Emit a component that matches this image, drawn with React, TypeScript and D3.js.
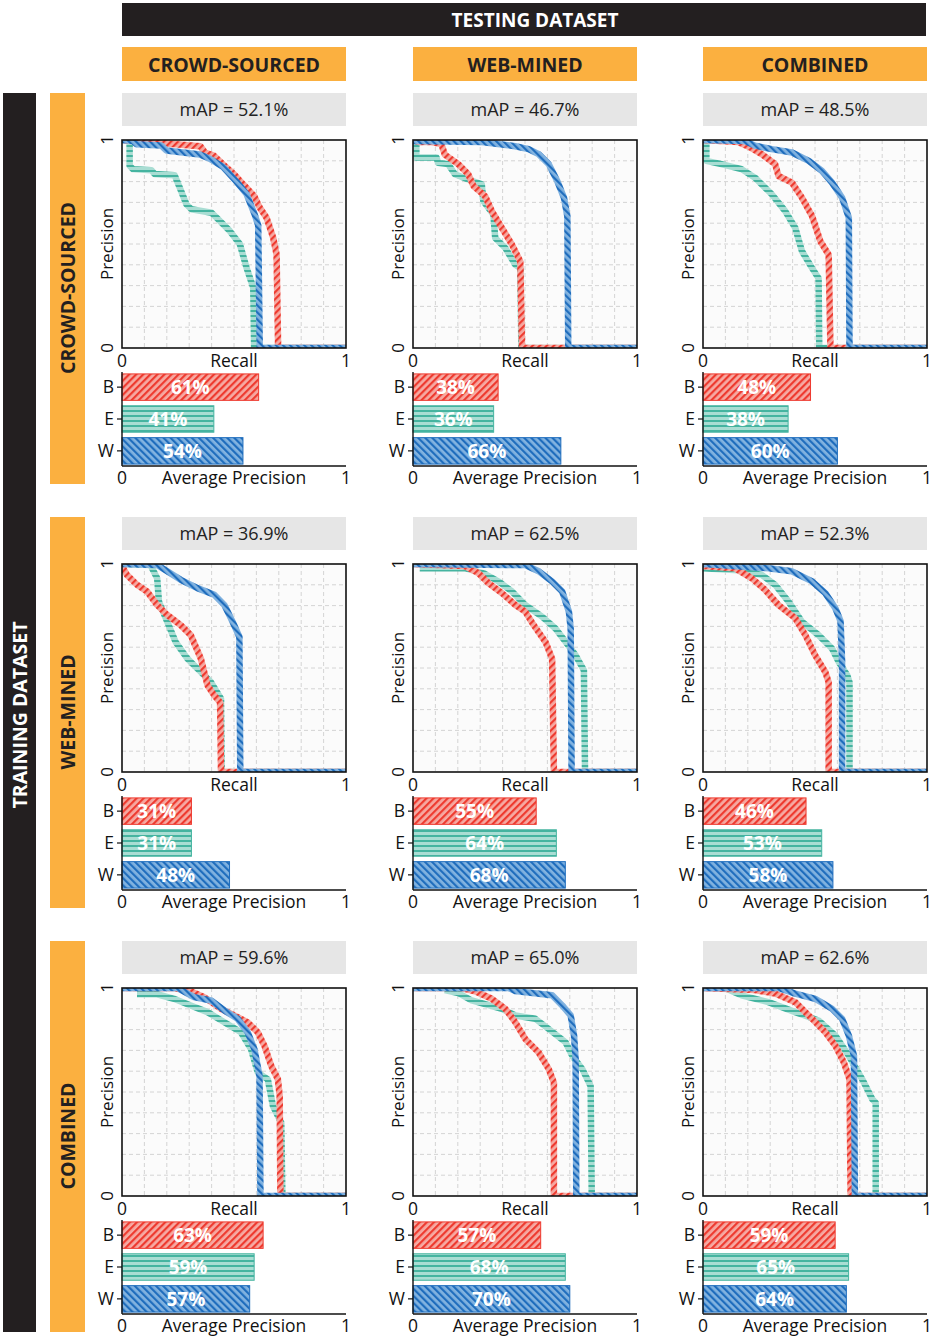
import React from 'react';
import * as d3 from 'd3';

// datasets / classes
const testSets = ['CROWD-SOURCED', 'WEB-MINED', 'COMBINED'];
const trainSets = ['CROWD-SOURCED', 'WEB-MINED', 'COMBINED'];
const classKeys = ['B', 'E', 'W'];

// mAP per training row / testing column
const mapRow1 = [52.1, 46.7, 48.5];
const mapRow2 = [36.9, 62.5, 52.3];
const mapRow3 = [59.6, 65.0, 62.6];

// average precision (%) per class
const apB = [[61, 38, 48], [31, 55, 46], [63, 57, 59]];
const apE = [[41, 36, 38], [31, 64, 53], [59, 68, 65]];
const apW = [[54, 66, 60], [48, 68, 58], [57, 70, 64]];

// precision-recall curves, [recall, precision]
const prCsCsB = [[0, 1], [0.35, 0.97], [0.37, 0.94], [0.41, 0.925], [0.45, 0.884], [0.5, 0.836], [0.54, 0.788], [0.59, 0.731], [0.615, 0.675], [0.645, 0.627], [0.675, 0.53], [0.69, 0.45], [0.697, 0]];
const prCsCsE = [[0, 1], [0.034, 1], [0.034, 0.876], [0.049, 0.86], [0.131, 0.855], [0.146, 0.836], [0.235, 0.83], [0.258, 0.77], [0.288, 0.69], [0.31, 0.667], [0.4, 0.65], [0.422, 0.627], [0.481, 0.563], [0.526, 0.5], [0.556, 0.386], [0.586, 0.29], [0.59, 0]];
const prCsCsW = [[0, 1], [0.049, 0.995], [0.064, 0.98], [0.176, 0.973], [0.198, 0.95], [0.347, 0.93], [0.392, 0.91], [0.452, 0.87], [0.511, 0.8], [0.556, 0.74], [0.593, 0.64], [0.608, 0.59], [0.615, 0]];

const prCsWmB = [[0, 1], [0.03, 0.99], [0.082, 0.99], [0.127, 0.98], [0.142, 0.93], [0.202, 0.884], [0.247, 0.835], [0.27, 0.779], [0.322, 0.73], [0.352, 0.658], [0.397, 0.577], [0.442, 0.497], [0.479, 0.416], [0.487, 0]];
const prCsWmE = [[0, 1], [0.015, 1], [0.015, 0.916], [0.105, 0.916], [0.112, 0.89], [0.157, 0.884], [0.187, 0.835], [0.247, 0.81], [0.307, 0.787], [0.314, 0.706], [0.359, 0.642], [0.367, 0.529], [0.412, 0.481], [0.457, 0.4], [0.479, 0.384], [0.484, 0]];
const prCsWmW = [[0, 0.995], [0.307, 0.99], [0.457, 0.97], [0.516, 0.956], [0.561, 0.932], [0.606, 0.884], [0.644, 0.803], [0.674, 0.722], [0.689, 0.634], [0.693, 0]];

const prCsCbB = [[0, 1], [0.157, 0.99], [0.209, 0.965], [0.262, 0.932], [0.322, 0.884], [0.337, 0.827], [0.397, 0.795], [0.442, 0.722], [0.487, 0.634], [0.524, 0.513], [0.561, 0.448], [0.569, 0]];
const prCsCbE = [[0, 1], [0.015, 1], [0.015, 0.9], [0.082, 0.884], [0.172, 0.86], [0.232, 0.819], [0.307, 0.739], [0.367, 0.658], [0.412, 0.577], [0.442, 0.465], [0.487, 0.384], [0.516, 0.335], [0.519, 0]];
const prCsCbW = [[0, 1], [0.187, 0.995], [0.232, 0.973], [0.307, 0.956], [0.397, 0.94], [0.472, 0.9], [0.531, 0.852], [0.576, 0.795], [0.621, 0.722], [0.651, 0.626], [0.654, 0]];

const prWmCsB = [[0, 0.99], [0.022, 0.948], [0.067, 0.9], [0.112, 0.868], [0.157, 0.803], [0.202, 0.755], [0.262, 0.706], [0.307, 0.658], [0.352, 0.545], [0.382, 0.416], [0.412, 0.368], [0.438, 0.335], [0.442, 0]];
const prWmCsE = [[0, 1], [0.127, 0.995], [0.157, 0.932], [0.165, 0.819], [0.202, 0.722], [0.239, 0.626], [0.292, 0.545], [0.352, 0.481], [0.397, 0.432], [0.442, 0.352], [0.445, 0]];
const prWmCsW = [[0, 1], [0.157, 0.995], [0.202, 0.965], [0.262, 0.924], [0.337, 0.884], [0.412, 0.852], [0.457, 0.803], [0.494, 0.722], [0.524, 0.65], [0.528, 0]];

const prWmWmB = [[0, 1], [0.232, 0.99], [0.292, 0.956], [0.337, 0.908], [0.397, 0.86], [0.457, 0.803], [0.501, 0.771], [0.539, 0.706], [0.591, 0.626], [0.621, 0.545], [0.629, 0]];
const prWmWmE = [[0.03, 0.98], [0.232, 0.98], [0.322, 0.952], [0.382, 0.916], [0.442, 0.868], [0.501, 0.803], [0.576, 0.747], [0.636, 0.69], [0.681, 0.626], [0.726, 0.561], [0.763, 0.489], [0.768, 0]];
const prWmWmW = [[0, 1], [0.501, 0.995], [0.561, 0.965], [0.621, 0.916], [0.666, 0.868], [0.696, 0.771], [0.704, 0.69], [0.708, 0]];

const prWmCbB = [[0, 0.99], [0.142, 0.98], [0.217, 0.932], [0.277, 0.876], [0.337, 0.803], [0.412, 0.739], [0.457, 0.658], [0.501, 0.561], [0.546, 0.481], [0.561, 0.432], [0.561, 0]];
const prWmCbE = [[0, 0.98], [0.157, 0.97], [0.262, 0.948], [0.322, 0.9], [0.382, 0.819], [0.442, 0.722], [0.516, 0.658], [0.576, 0.594], [0.606, 0.529], [0.644, 0.465], [0.654, 0.432], [0.654, 0]];
const prWmCbW = [[0, 1], [0.292, 0.98], [0.397, 0.965], [0.487, 0.916], [0.546, 0.86], [0.591, 0.787], [0.614, 0.726], [0.621, 0.529], [0.621, 0]];

const prCbCsB = [[0, 1], [0.232, 1], [0.307, 0.984], [0.367, 0.956], [0.442, 0.9], [0.501, 0.868], [0.561, 0.835], [0.606, 0.787], [0.636, 0.722], [0.666, 0.626], [0.696, 0.561], [0.704, 0.481], [0.707, 0]];
const prCbCsE = [[0.067, 0.97], [0.157, 0.97], [0.232, 0.948], [0.307, 0.916], [0.382, 0.884], [0.457, 0.835], [0.531, 0.787], [0.576, 0.706], [0.606, 0.594], [0.651, 0.561], [0.674, 0.432], [0.711, 0.352], [0.716, 0]];
const prCbCsW = [[0, 1], [0.247, 1], [0.322, 0.956], [0.397, 0.94], [0.457, 0.892], [0.516, 0.852], [0.561, 0.787], [0.591, 0.706], [0.614, 0.577], [0.618, 0]];

const prCbWmB = [[0, 1], [0.217, 1], [0.277, 0.984], [0.352, 0.948], [0.412, 0.9], [0.457, 0.835], [0.501, 0.755], [0.561, 0.69], [0.606, 0.61], [0.629, 0.545], [0.629, 0]];
const prCbWmE = [[0.142, 0.99], [0.202, 0.976], [0.262, 0.94], [0.397, 0.9], [0.457, 0.868], [0.546, 0.852], [0.606, 0.803], [0.681, 0.739], [0.711, 0.674], [0.756, 0.61], [0.793, 0.529], [0.798, 0]];
const prCbWmW = [[0, 1], [0.427, 1], [0.457, 0.985], [0.621, 0.965], [0.666, 0.916], [0.704, 0.868], [0.719, 0.771], [0.726, 0.658], [0.729, 0]];

const prCbCbB = [[0, 1], [0.232, 0.99], [0.322, 0.973], [0.412, 0.932], [0.487, 0.852], [0.546, 0.787], [0.591, 0.722], [0.629, 0.642], [0.654, 0.561], [0.659, 0]];
const prCbCbE = [[0.097, 1], [0.172, 0.965], [0.292, 0.932], [0.412, 0.884], [0.516, 0.844], [0.591, 0.771], [0.651, 0.674], [0.711, 0.561], [0.756, 0.465], [0.771, 0.448], [0.771, 0]];
const prCbCbW = [[0, 1], [0.337, 1], [0.412, 0.973], [0.501, 0.948], [0.576, 0.9], [0.621, 0.852], [0.651, 0.771], [0.674, 0.674], [0.678, 0]];

const mapValues = [mapRow1, mapRow2, mapRow3];
const curves: Record<string, number[][]>[][] = [
  [{ B: prCsCsB, E: prCsCsE, W: prCsCsW }, { B: prCsWmB, E: prCsWmE, W: prCsWmW }, { B: prCsCbB, E: prCsCbE, W: prCsCbW }],
  [{ B: prWmCsB, E: prWmCsE, W: prWmCsW }, { B: prWmWmB, E: prWmWmE, W: prWmWmW }, { B: prWmCbB, E: prWmCbE, W: prWmCbW }],
  [{ B: prCbCsB, E: prCbCsE, W: prCbCsW }, { B: prCbWmB, E: prCbWmE, W: prCbWmW }, { B: prCbCbB, E: prCbCbE, W: prCbCbW }],
];

const colors: Record<string, { dark: string; light: string }> = {
  B: { dark: '#ee3a2f', light: '#f6aaa3' },
  E: { dark: '#45b4a0', light: '#a9ddd3' },
  W: { dark: '#1f6dbd', light: '#82b3e0' },
};

const font = '"Open Sans", "Noto Sans", sans-serif';
const orange = '#fbb040';
const black = '#231f20';

// layout
const colX = [122, 413, 703];
const rowY = [93, 517, 941];
const panelW = 224;

const Panel = ({ r, c }: { r: number; c: number }) => {
  const x0 = colX[c];
  const y0 = rowY[r];
  const plotTop = y0 + 47;
  const plotBottom = y0 + 255;
  const x = d3.scaleLinear().domain([0, 1]).range([x0, x0 + panelW]);
  const y = d3.scaleLinear().domain([0, 1]).range([plotBottom, plotTop]);
  const line = d3.line<number[]>().x((d) => x(d[0])).y((d) => y(d[1]));
  const grid = d3.range(1, 10).map((i) => i / 10);
  const barTop = y0 + 279;
  const barBottom = y0 + 373;
  const yb = d3.scaleBand<string>().domain(classKeys).range([barTop, barBottom]).paddingInner(0.17).paddingOuter(0.06);
  const ap: Record<string, number> = { B: apB[r][c], E: apE[r][c], W: apW[r][c] };
  const clipId = `clip-${r}-${c}`;
  const drawOrder = ['E', 'B', 'W'];
  return (
    <g>
      <rect x={x0} y={y0} width={panelW} height={33} fill="#e6e6e6" />
      <text x={x0 + panelW / 2} y={y0 + 22.5} textAnchor="middle" fontSize={18} fill="#222" fontFamily={font}>
        {`mAP = ${mapValues[r][c].toFixed(1)}%`}
      </text>
      <clipPath id={clipId}>
        <rect x={x0} y={plotTop} width={panelW} height={plotBottom - plotTop} />
      </clipPath>
      <rect x={x0} y={plotTop} width={panelW} height={plotBottom - plotTop} fill="#fbfbfb" />
      {grid.map((g) => (
        <g key={g}>
          <line x1={x(g)} x2={x(g)} y1={plotTop} y2={plotBottom} stroke="#cfcfcf" strokeDasharray="4,3" strokeWidth={0.9} />
          <line x1={x0} x2={x0 + panelW} y1={y(g)} y2={y(g)} stroke="#cfcfcf" strokeDasharray="4,3" strokeWidth={0.9} />
        </g>
      ))}
      <g clipPath={`url(#${clipId})`}>
        {drawOrder.map((k) => (
          <path
            key={k}
            d={line([...curves[r][c][k], [1, 0]]) || ''}
            fill="none"
            stroke={`url(#hatch-${k})`}
            strokeWidth={6.5}
            strokeLinejoin="round"
          />
        ))}
      </g>
      <rect x={x0} y={plotTop} width={panelW} height={plotBottom - plotTop} fill="none" stroke="#111" strokeWidth={1.6} />
      {/* y ticks + label */}
      {[0, 1].map((v) => (
        <text key={v} transform={`translate(${x0 - 9},${y(v)}) rotate(-90)`} textAnchor="middle" fontSize={17} fill="#111" fontFamily={font}>
          {v}
        </text>
      ))}
      <text transform={`translate(${x0 - 9},${(plotTop + plotBottom) / 2}) rotate(-90)`} textAnchor="middle" fontSize={17} fill="#111" fontFamily={font}>
        Precision
      </text>
      {/* x ticks + label */}
      {[0, 1].map((v) => (
        <text key={v} x={x(v)} y={plotBottom + 19} textAnchor="middle" fontSize={17.5} fill="#111" fontFamily={font}>
          {v}
        </text>
      ))}
      <text x={x(0.5)} y={plotBottom + 19} textAnchor="middle" fontSize={17.5} fill="#111" fontFamily={font}>
        Recall
      </text>
      {/* AP bars */}
      {classKeys.map((k) => (
        <g key={k}>
          <rect x={x(0)} y={yb(k)} width={x(ap[k] / 100) - x(0)} height={yb.bandwidth()} fill={`url(#hatch-${k})`} stroke={colors[k].dark} strokeWidth={1} />
          <text x={(x(0) + x(ap[k] / 100)) / 2} y={(yb(k) || 0) + yb.bandwidth() / 2 + 7} textAnchor="middle" fontSize={19} fontWeight="bold" fill="#fff" fontFamily={font}>
            {`${ap[k]}%`}
          </text>
          <line x1={x0 - 5} x2={x0} y1={(yb(k) || 0) + yb.bandwidth() / 2} y2={(yb(k) || 0) + yb.bandwidth() / 2} stroke="#111" strokeWidth={1.2} />
          <text x={x0 - 8} y={(yb(k) || 0) + yb.bandwidth() / 2 + 6} textAnchor="end" fontSize={17.5} fill="#111" fontFamily={font}>
            {k}
          </text>
        </g>
      ))}
      <line x1={x0} x2={x0} y1={barTop} y2={barBottom} stroke="#111" strokeWidth={1.4} />
      <line x1={x0} x2={x0 + panelW} y1={barBottom} y2={barBottom} stroke="#111" strokeWidth={1.4} />
      {[0, 1].map((v) => (
        <text key={v} x={x(v)} y={barBottom + 18} textAnchor="middle" fontSize={17.5} fill="#111" fontFamily={font}>
          {v}
        </text>
      ))}
      <text x={x(0.5)} y={barBottom + 18} textAnchor="middle" fontSize={17.5} fill="#111" fontFamily={font}>
        Average Precision
      </text>
    </g>
  );
};

const App = () => {
  return (
    <svg width={931} height={1339} style={{ position: 'absolute', left: 0, top: 0, background: '#fff' }}>
      <defs>
        <pattern id="hatch-B" patternUnits="userSpaceOnUse" width={5} height={5} patternTransform="rotate(45)">
          <rect width={5} height={5} fill={colors.B.light} />
          <rect width={2.2} height={5} fill={colors.B.dark} />
        </pattern>
        <pattern id="hatch-E" patternUnits="userSpaceOnUse" width={5} height={5}>
          <rect width={5} height={5} fill={colors.E.light} />
          <rect width={5} height={2} fill={colors.E.dark} />
        </pattern>
        <pattern id="hatch-W" patternUnits="userSpaceOnUse" width={5} height={5} patternTransform="rotate(-45)">
          <rect width={5} height={5} fill={colors.W.light} />
          <rect width={2.2} height={5} fill={colors.W.dark} />
        </pattern>
      </defs>

      {/* testing header */}
      <rect x={122} y={3} width={804} height={33} fill={black} />
      <text x={535} y={26.5} textAnchor="middle" fontSize={19} fontWeight="bold" fill="#fff" fontFamily={font}>
        TESTING DATASET
      </text>
      {testSets.map((t, c) => (
        <g key={t}>
          <rect x={colX[c]} y={47} width={panelW} height={34} fill={orange} />
          <text x={colX[c] + panelW / 2} y={71.5} textAnchor="middle" fontSize={19.5} fontWeight="bold" fill={black} fontFamily={font}>
            {t}
          </text>
        </g>
      ))}

      {/* training header */}
      <rect x={3} y={93} width={33} height={1239} fill={black} />
      <text transform={`translate(26.5,715) rotate(-90)`} textAnchor="middle" fontSize={19.5} fontWeight="bold" fill="#fff" fontFamily={font}>
        TRAINING DATASET
      </text>
      {trainSets.map((t, r) => (
        <g key={t}>
          <rect x={50} y={rowY[r]} width={35} height={391} fill={orange} />
          <text transform={`translate(74.5,${rowY[r] + 195}) rotate(-90)`} textAnchor="middle" fontSize={19.5} fontWeight="bold" fill={black} fontFamily={font}>
            {t}
          </text>
        </g>
      ))}

      {[0, 1, 2].map((r) => [0, 1, 2].map((c) => <Panel key={`${r}-${c}`} r={r} c={c} />))}
    </svg>
  );
};

export default App;
